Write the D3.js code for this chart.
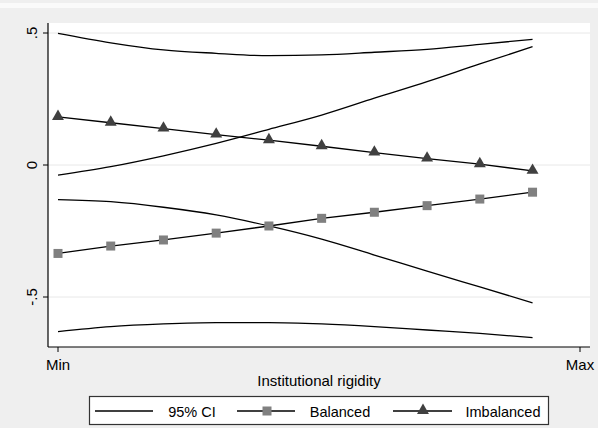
<!DOCTYPE html>
<html>
<head>
<meta charset="utf-8">
<script src="https://cdn.jsdelivr.net/npm/d3@7"></script>
<style>
  body { margin:0; background:#efefef; }
  svg { display:block; font-family:"Liberation Sans", Arial, sans-serif; }
</style>
</head>
<body>
<div id="chart"></div>
<script>
// x positions: 10 evaluation points between Min and Max of rigidity
const xPoints = [0,1,2,3,4,5,6,7,8,9];
const xTickVals = [0, 9.9];
const xTickLabels = ["Min", "Max"];
const yTickVals = [0.5, 0, -0.5];
const yTickLabels = [".5", "0", "-.5"];

const balanced = [-0.335,-0.307,-0.284,-0.258,-0.231,-0.202,-0.179,-0.154,-0.129,-0.103];
const balancedHi = [-0.131,-0.139,-0.160,-0.189,-0.231,-0.281,-0.341,-0.402,-0.462,-0.522];
const balancedLo = [-0.631,-0.612,-0.602,-0.597,-0.597,-0.602,-0.612,-0.625,-0.638,-0.654];

const imbalanced = [0.182,0.160,0.138,0.115,0.094,0.071,0.047,0.024,0.003,-0.022];
const imbalancedHi = [0.499,0.463,0.436,0.423,0.414,0.417,0.427,0.438,0.457,0.476];
const imbalancedLo = [-0.038,-0.006,0.035,0.082,0.135,0.189,0.253,0.316,0.383,0.448];

const legendLabels = ["95% CI", "Balanced", "Imbalanced"];

const width = 598, height = 428;
let svg = d3.select("#chart").append("svg")
            .attr("width", width)
            .attr("height", height);

// background strip at top
svg.append("rect").attr("x",0).attr("y",0).attr("width",width).attr("height",height).attr("fill","#efefef");
svg.append("rect").attr("x",0).attr("y",3).attr("width",width).attr("height",5).attr("fill","#fafafa");

let plot = {left:48, right:590, top:23, bottom:347};

let xScale = d3.scaleLinear().domain([0, 9.9]).range([58, 580]);
let yScale = d3.scaleLinear().domain([0.5, -0.5]).range([33, 297]);

// plot area
svg.append("rect")
    .attr("x", plot.left).attr("y", plot.top)
    .attr("width", plot.right - plot.left)
    .attr("height", plot.bottom - plot.top)
    .attr("fill", "white");

// gridlines
svg.selectAll("line.grid")
    .data(yTickVals)
    .join("line")
    .attr("class","grid")
    .attr("x1", plot.left).attr("x2", plot.right)
    .attr("y1", d => yScale(d)).attr("y2", d => yScale(d))
    .attr("stroke", "#e8e8e8")
    .attr("stroke-width", 1);

//#region lines
let lineFunc = d3.line()
                .x((d,i) => xScale(xPoints[i]))
                .y(d => yScale(d))
                .curve(d3.curveMonotoneX);

let ciSeries = [imbalancedHi, imbalancedLo, balancedHi, balancedLo];
svg.selectAll("path.ci")
    .data(ciSeries)
    .join("path")
    .attr("class","ci")
    .attr("d", lineFunc)
    .attr("fill","none")
    .attr("stroke","black")
    .attr("stroke-width",1.3);

let straight = d3.line()
                .x((d,i) => xScale(xPoints[i]))
                .y(d => yScale(d));

svg.append("path").attr("d", straight(balanced))
    .attr("fill","none").attr("stroke","black").attr("stroke-width",1.3);
svg.append("path").attr("d", straight(imbalanced))
    .attr("fill","none").attr("stroke","black").attr("stroke-width",1.3);

svg.selectAll("rect.sq")
    .data(balanced)
    .join("rect")
    .attr("class","sq")
    .attr("x",(d,i) => xScale(xPoints[i]) - 4.5)
    .attr("y",d => yScale(d) - 4.5)
    .attr("width",9).attr("height",9)
    .attr("fill","#808080");

let tri = d3.symbol().type(d3.symbolTriangle).size(62);
svg.selectAll("path.tri")
    .data(imbalanced)
    .join("path")
    .attr("class","tri")
    .attr("d", tri)
    .attr("transform",(d,i) => `translate(${xScale(xPoints[i])},${yScale(d) - 0.5})`)
    .attr("fill","#404040");
//#endregion

//#region axes
svg.append("line").attr("x1",plot.left).attr("x2",plot.left)
    .attr("y1",plot.top).attr("y2",plot.bottom)
    .attr("stroke","black").attr("stroke-width",1.2);
svg.append("line").attr("x1",plot.left).attr("x2",plot.right)
    .attr("y1",plot.bottom).attr("y2",plot.bottom)
    .attr("stroke","black").attr("stroke-width",1.2);

svg.selectAll("line.ytick")
    .data(yTickVals)
    .join("line")
    .attr("class","ytick")
    .attr("x1",plot.left - 5).attr("x2",plot.left)
    .attr("y1",d => yScale(d)).attr("y2",d => yScale(d))
    .attr("stroke","black");

svg.selectAll("text.ytick")
    .data(yTickVals)
    .join("text")
    .attr("class","ytick")
    .attr("transform",d => `translate(37,${yScale(d)}) rotate(-90)`)
    .attr("text-anchor","middle")
    .attr("font-size",15)
    .text((d,i) => yTickLabels[i]);

svg.selectAll("line.xtick")
    .data(xTickVals)
    .join("line")
    .attr("class","xtick")
    .attr("x1",d => xScale(d)).attr("x2",d => xScale(d))
    .attr("y1",plot.bottom).attr("y2",plot.bottom + 5)
    .attr("stroke","black");

svg.selectAll("text.xtick")
    .data(xTickVals)
    .join("text")
    .attr("class","xtick")
    .attr("x",d => xScale(d))
    .attr("y",370)
    .attr("text-anchor","middle")
    .attr("font-size",15)
    .text((d,i) => xTickLabels[i]);

svg.append("text")
    .attr("x",319).attr("y",386)
    .attr("text-anchor","middle")
    .attr("font-size",15)
    .text("Institutional rigidity");
//#endregion

//#region legend
svg.append("rect")
    .attr("x",89.5).attr("y",396.5)
    .attr("width",459).attr("height",28)
    .attr("fill","white")
    .attr("stroke","#333").attr("stroke-width",1.2);

let legendLines = [[95,153],[237,295],[393,452]];
let legendText = [192,340,503];
svg.selectAll("line.leg")
    .data(legendLines)
    .join("line")
    .attr("class","leg")
    .attr("x1",d => d[0]).attr("x2",d => d[1])
    .attr("y1",411).attr("y2",411)
    .attr("stroke","black").attr("stroke-width",1.3);
svg.append("rect").attr("x",267 - 4.5).attr("y",411 - 4.5)
    .attr("width",9).attr("height",9).attr("fill","#808080");
svg.append("path").attr("d",tri)
    .attr("transform","translate(423,410.5)").attr("fill","#404040");
svg.selectAll("text.leg")
    .data(legendLabels)
    .join("text")
    .attr("class","leg")
    .attr("x",(d,i) => legendText[i])
    .attr("y",416.5)
    .attr("text-anchor","middle")
    .attr("font-size",14.5)
    .text(d => d);
//#endregion
</script>
</body>
</html>
